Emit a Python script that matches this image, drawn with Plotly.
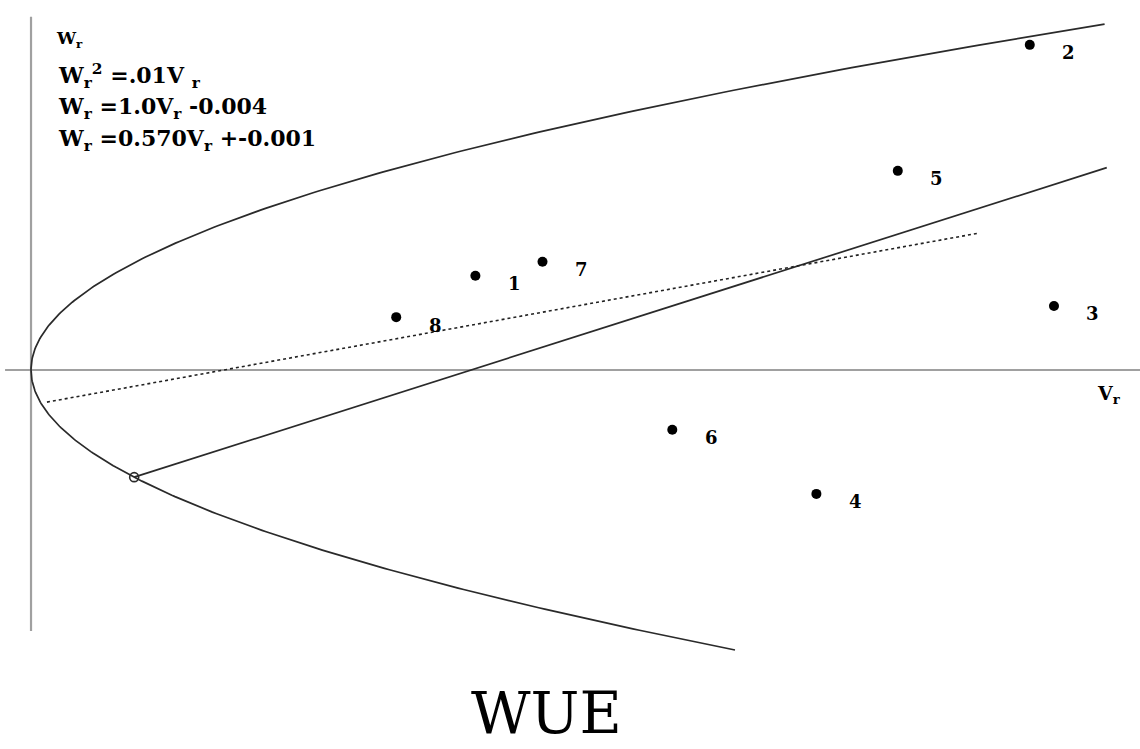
import numpy as np
import plotly.graph_objects as go

# ---- data ----
point_labels = ["1", "2", "3", "4", "5", "6", "7", "8"]
vr_values = [0.00404, 0.00908, 0.00930, 0.00714, 0.00788, 0.00583, 0.00465, 0.00332]
wr_values = [0.00269, 0.00929, 0.00183, -0.00354, 0.00569, -0.00171, 0.00309, 0.00151]

# model equations shown in the chart
parab_coef = 0.01                      # Wr^2 = .01 Vr
line_slope, line_int = 1.0, -0.004     # Wr = 1.0 Vr - 0.004
fit_slope, fit_int = 0.570, -0.001     # Wr = 0.570 Vr + -0.001

# drawing extents (in Vr units)
upper_v_end = 0.00976
lower_v_end = 0.00640
line_v_end = 0.00978
fit_v_start, fit_v_end = 0.000145, 0.00860

# ---- layout scale (pixel frame 1140 x 749) ----
W_PX, H_PX = 1140, 749
x_range = [-0.000282, 0.010082]
y_range = [-0.010829, 0.010571]

fig = go.Figure()

# axes (gray)
axis_color = "#a0a0a0"
fig.add_trace(go.Scatter(x=[0, 0], y=[0.01009, -0.00746], mode="lines",
                         line=dict(color=axis_color, width=2.2), hoverinfo="skip"))
fig.add_trace(go.Scatter(x=[-0.000236, 0.0101], y=[0, 0], mode="lines",
                         line=dict(color=axis_color, width=2.2), hoverinfo="skip"))

curve_color = "#2a2a2a"

# parabola Wr^2 = 0.01 Vr
w_up = np.linspace(0, np.sqrt(parab_coef * upper_v_end), 200)
w_lo = np.linspace(-np.sqrt(parab_coef * lower_v_end), 0, 200)
w_all = np.concatenate([w_lo, w_up])
v_all = w_all ** 2 / parab_coef
fig.add_trace(go.Scatter(x=v_all, y=w_all, mode="lines",
                         line=dict(color=curve_color, width=1.7), hoverinfo="skip"))

# intersection of the straight line with the lower branch
a = 1 / parab_coef
roots = np.roots([line_slope * a, -1, line_int])
w_int = roots.min()
v_int = a * w_int ** 2

# straight line Wr = 1.0 Vr - 0.004
lv = np.array([v_int, line_v_end])
fig.add_trace(go.Scatter(x=lv, y=line_slope * lv + line_int, mode="lines",
                         line=dict(color=curve_color, width=1.7), hoverinfo="skip"))

# small open circle at the intersection
fig.add_trace(go.Scatter(x=[v_int], y=[w_int], mode="markers",
                         marker=dict(symbol="circle-open", size=9, color=curve_color,
                                     line=dict(width=1.6)), hoverinfo="skip"))

# dotted fit line
fv = np.array([fit_v_start, fit_v_end])
fig.add_trace(go.Scatter(x=fv, y=fit_slope * fv + fit_int, mode="lines",
                         line=dict(color="#222222", width=1.6, dash="dot"), hoverinfo="skip"))

# data points
fig.add_trace(go.Scatter(x=vr_values, y=wr_values, mode="markers",
                         marker=dict(color="black", size=10), hoverinfo="skip"))

annotations = []
for lab, v, w in zip(point_labels, vr_values, wr_values):
    annotations.append(dict(x=v, y=w, xref="x", yref="y", text="<b>%s</b>" % lab,
                            showarrow=False, xshift=39, yshift=-8,
                            font=dict(family="DejaVu Serif", size=18, color="black")))


def px(xp):
    return xp / W_PX


def py(yp):
    return 1 - yp / H_PX


eq_font = dict(family="DejaVu Serif", size=22, color="black")
annotations += [
    dict(x=px(54), y=py(40), xref="paper", yref="paper", xanchor="left", yanchor="middle",
         text="<b>W<sub>r</sub></b>", showarrow=False,
         font=dict(family="DejaVu Serif", size=17, color="black")),
    dict(x=px(56), y=py(76), xref="paper", yref="paper", xanchor="left", yanchor="middle",
         text="<b>W<sub>r</sub><sup>2</sup> =.01V <sub>r</sub></b>", showarrow=False, font=eq_font),
    dict(x=px(56), y=py(108), xref="paper", yref="paper", xanchor="left", yanchor="middle",
         text="<b>W<sub>r</sub> =1.0V<sub>r</sub> -0.004</b>", showarrow=False, font=eq_font),
    dict(x=px(56), y=py(140), xref="paper", yref="paper", xanchor="left", yanchor="middle",
         text="<b>W<sub>r</sub> =0.570V<sub>r</sub> +-0.001</b>", showarrow=False, font=eq_font),
    dict(x=px(1095), y=py(394), xref="paper", yref="paper", xanchor="left", yanchor="middle",
         text="<b>V<sub>r</sub></b>", showarrow=False,
         font=dict(family="DejaVu Serif", size=19, color="black")),
    dict(x=px(546), y=0, xref="paper", yref="paper", xanchor="center", yanchor="bottom",
         text="WUE", showarrow=False,
         font=dict(family="DejaVu Serif", size=58, color="black")),
]

fig.update_layout(
    width=W_PX, height=H_PX,
    margin=dict(l=0, r=0, t=0, b=0),
    paper_bgcolor="white", plot_bgcolor="white",
    showlegend=False,
    xaxis=dict(range=x_range, visible=False, showgrid=False, zeroline=False, fixedrange=True),
    yaxis=dict(range=y_range, visible=False, showgrid=False, zeroline=False, fixedrange=True),
    annotations=annotations,
)

fig.write_html("out.html", config={"displayModeBar": False},
               post_script="document.body.style.margin='0';document.body.style.overflow='hidden';")
